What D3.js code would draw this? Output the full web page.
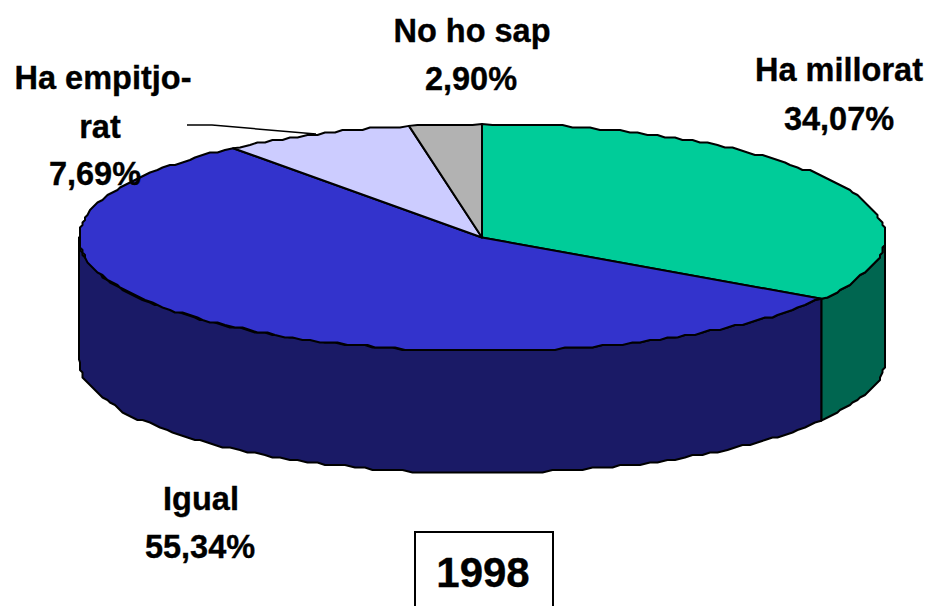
<!DOCTYPE html>
<html>
<head>
<meta charset="utf-8">
<script src="https://cdn.jsdelivr.net/npm/d3@7"></script>
<style>
html,body{margin:0;padding:0;background:#fff;overflow:hidden}
svg{display:block}
text{font-family:"Liberation Sans",Arial,sans-serif;font-weight:bold;fill:#000;stroke:#000;stroke-width:.35;text-anchor:middle}
</style>
</head>
<body>
<svg id="c" width="930" height="606"></svg>
<script>
const categories = ["Ha millorat", "Igual", "Ha empitjorat", "No ho sap"];
const values = [34.07, 55.34, 7.69, 2.90];
const valueLabels = ["34,07%", "55,34%", "7,69%", "2,90%"];
const topColors = ["#00cc99", "#3333cc", "#ccccff", "#b2b2b2"];
const sideColors = ["#006650", "#1a1a66", "#666680", "#595959"];
const labelLines = [["Ha millorat", "34,07%"], ["Igual", "55,34%"], ["Ha empitjo-", "rat", "7,69%"], ["No ho sap", "2,90%"]];
const labelX = [[839, 839], [201, 200], [103, 100, 95], [472, 471]];
const labelY = [[81, 130], [510, 558], [89, 138, 185], [42, 90]];
const yearLabel = "1998";

const svg = d3.select("#c");
const x = d3.scaleLinear().domain([-1, 1]).range([79, 885]);
const y = d3.scaleLinear().domain([-1, 1]).range([351, 124]);
const depth = 122;
const line = d3.line();
const snap = v => Math.round(v / 2.5) * 2.5;

const arcs = d3.pie().sort(null).value(d => d)(values);

function rim(a0, a1, dy) {
  const n = Math.max(2, Math.ceil((a1 - a0) / 0.025));
  return d3.range(n + 1).map(i => {
    const a = a0 + (a1 - a0) * i / n;
    const px = x(Math.sin(a)), py = y(Math.cos(a)) + dy;
    const atEnd = i === 0 || i === n;
    return atEnd ? [px, py] : [snap(px), snap(py)];
  });
}

// side walls (front half only)
arcs.forEach((d, i) => {
  const a0 = Math.max(d.startAngle, Math.PI / 2);
  const a1 = Math.min(d.endAngle, 3 * Math.PI / 2);
  if (a1 <= a0) return;
  const top = rim(a0, a1, 0);
  const bottom = rim(a0, a1, depth).reverse();
  svg.append("path")
    .attr("d", line(top.concat(bottom)) + "Z")
    .attr("fill", sideColors[i])
    .attr("stroke", "#000").attr("stroke-width", 2).attr("stroke-linejoin", "round");
});

// top faces
arcs.forEach((d, i) => {
  const pts = [[x(0), y(0)]].concat(rim(d.startAngle, d.endAngle, 0));
  svg.append("path")
    .attr("d", line(pts) + "Z")
    .attr("fill", topColors[i])
    .attr("stroke", "#000").attr("stroke-width", 2).attr("stroke-linejoin", "round");
});

// leader line for the third slice
svg.append("path")
  .attr("d", line([[187, 125], [212, 125], [316, 134]]))
  .attr("fill", "none").attr("stroke", "#000").attr("stroke-width", 1.5);

// labels
labelLines.forEach((lines, i) => {
  const t = svg.append("text").attr("font-size", 32.5);
  lines.forEach((s, j) => {
    t.append("tspan").attr("x", labelX[i][j]).attr("y", labelY[i][j]).text(s);
  });
});

// year box
svg.append("rect").attr("x", 415).attr("y", 532).attr("width", 138).attr("height", 90)
  .attr("fill", "#fff").attr("stroke", "#000").attr("stroke-width", 2);
svg.append("text").attr("x", 483).attr("y", 587).attr("font-size", 42).text(yearLabel);
</script>
</body>
</html>
